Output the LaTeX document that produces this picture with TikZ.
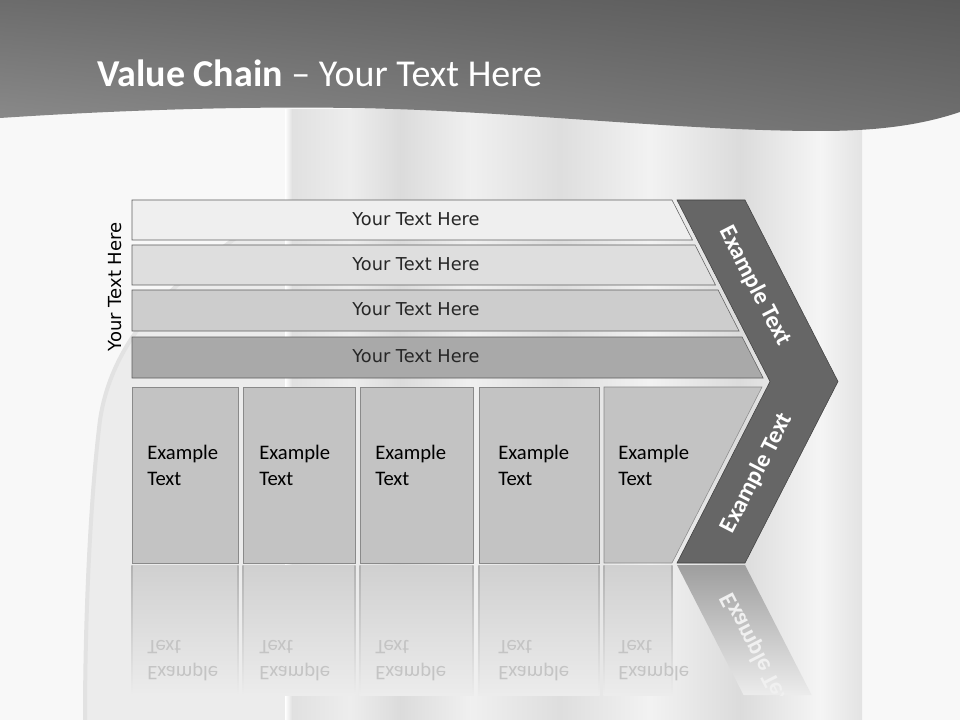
\documentclass[tikz,border=0pt]{standalone}
\usepackage{fontspec}
\setmainfont{Carlito}
\newfontfamily\vera{DejaVu Sans}
\usetikzlibrary{calc,shadings}
\definecolor{bgpale}{RGB}{248,248,248}
\definecolor{vasegray}{RGB}{236,236,236}
\definecolor{vaseline}{RGB}{226,226,226}
\definecolor{hdrUL}{RGB}{108,108,108}
\definecolor{hdrUR}{RGB}{90,90,90}
\definecolor{hdrLL}{RGB}{140,140,140}
\definecolor{hdrLR}{RGB}{112,112,112}
\definecolor{barA}{RGB}{239,239,239}
\definecolor{barB}{RGB}{222,222,222}
\definecolor{barC}{RGB}{205,205,205}
\definecolor{barD}{RGB}{169,169,169}
\definecolor{barline}{RGB}{95,95,95}
\definecolor{boxfill}{RGB}{195,195,195}
\definecolor{boxline}{RGB}{138,138,138}
\definecolor{chevfill}{RGB}{102,102,102}
\definecolor{chevline}{RGB}{64,64,64}
\definecolor{refltop}{RGB}{208,208,208}
\definecolor{reflbot}{RGB}{236,236,236}
\definecolor{reflline}{RGB}{178,178,178}
\definecolor{reflchev}{RGB}{158,158,158}
\definecolor{mirrorgray}{RGB}{196,196,196}
\tikzset{
  headline/.style={anchor=west,text=white,inner sep=0pt,font=\fontsize{28.5}{32}\selectfont},
  bartext/.style={text=black!85,inner sep=0pt,font=\vera\fontsize{13.3}{16}\selectfont},
  sidelabel/.style={text=black,inner sep=0pt,rotate=90,font=\vera\fontsize{13.5}{16}\selectfont},
  boxtext/.style={anchor=west,align=left,inner sep=0pt,text=black,font=\fontsize{15.5}{19.5}\selectfont},
  chevtext/.style={text=white,inner sep=0pt,font=\bfseries\fontsize{18}{20}\selectfont},
  mirrortext/.style={boxtext,text=mirrorgray,yscale=-1},
}

\begin{document}
\begin{tikzpicture}[x=0.75pt,y=-0.75pt]
  \useasboundingbox (0,0) rectangle (960,720);
  % backdrop
  \fill[bgpale] (0,0) rectangle (960,720);
  \fill[vasegray] (292,110) -- (292,200) .. controls (200,260) and (115,320) .. (100,420)
    .. controls (90,500) and (85,620) .. (85,720) -- (292,720) -- cycle;
  \draw[vaseline,line width=3pt] (292,200) .. controls (200,260) and (115,320) .. (100,420)
    .. controls (90,500) and (85,620) .. (85,720);
  \foreach \xa/\xb/\ca/\cb in {285/292/white/black!12, 292/350/black!12/black!7,
      350/400/black!7/black!14, 400/470/black!14/black!6, 470/560/black!6/black!13,
      560/650/black!13/black!5, 650/740/black!5/black!14, 740/820/black!14/black!4,
      820/862/black!4/black!11}{
    \shade[left color=\ca,right color=\cb] (\xa,110) rectangle (\xb,720);
  }
  % header band
  \shade[upper left=hdrUL,upper right=hdrUR,lower left=hdrLL,lower right=hdrLR]
    (0,0) -- (960,0) -- (960,112) .. controls (930,122) and (890,131) .. (820,131)
    .. controls (700,131) and (560,116) .. (420,110)
    .. controls (280,104) and (120,110) .. (0,118) -- cycle;
  \node[headline] (title) at (97,73) {\textbf{Value Chain} -- Your Text Here};
  % reflection
  \begin{scope}
    \clip (0,565) rectangle (960,695);
    \foreach \xl/\xr/\xt in {132/238/147, 243/355/259, 360/473/375, 479/599/498, 604/672/618}{
      \shade[top color=refltop,bottom color=reflbot] (\xl,565) rectangle (\xr,695);
      \shade[top color=reflline,bottom color=reflbot] (\xl-0.7,565) rectangle (\xl+0.7,695);
      \shade[top color=reflline,bottom color=reflbot] (\xr-0.7,565) rectangle (\xr+0.7,695);
      \node[mirrortext] at (\xt,661) {Example\\Text};
    }
    \shade[top color=reflchev,bottom color=reflbot]
      (677,565) -- (745,565) -- (811.6,695) -- (743.6,695) -- cycle;
    \node[chevtext,text=white!94!black,rotate=-62.8,yscale=-1] (chevmirror) at (757,653) {Example Text};
  \end{scope}
  % stacked bars
  \foreach \yt/\yb/\col [count=\i] in {200/240/barA, 245/285/barB, 290/331/barC, 337/378/barD}{
    \draw[barline,fill=\col] (132,\yt) -- ({672+0.512*(\yt-200)},\yt)
      -- ({672+0.512*(\yb-200)},\yb) -- (132,\yb) -- cycle;
    \node[bartext] (bar\i) at (416,{(\yt+\yb)/2-1}) {Your Text Here};
  }
  \node[sidelabel] (side) at (115,287) {Your Text Here};
  % activity boxes
  \foreach \xl/\xr/\xt [count=\i] in {132/238/147, 243/355/259, 360/473/375, 479/599/498}{
    \draw[boxline,fill=boxfill] (\xl,387) rectangle (\xr,563);
    \node[boxtext] (box\i) at (\xt,465) {Example\\Text};
  }
  \draw[boxline,fill=boxfill] (604,387) -- (762,387) -- (672,563) -- (604,563) -- cycle;
  \node[boxtext] (box5) at (618,465) {Example\\Text};
  % chevron
  \draw[chevline,fill=chevfill] (677,200) -- (745,200) -- (838,381.5) -- (745,563)
    -- (677,563) -- (770,381.5) -- cycle;
  \node[chevtext,rotate=-62.8] (chevup) at (755,286) {Example Text};
  \node[chevtext,rotate=62.8] (chevdown) at (757,473) {Example Text};
\end{tikzpicture}
\end{document}
